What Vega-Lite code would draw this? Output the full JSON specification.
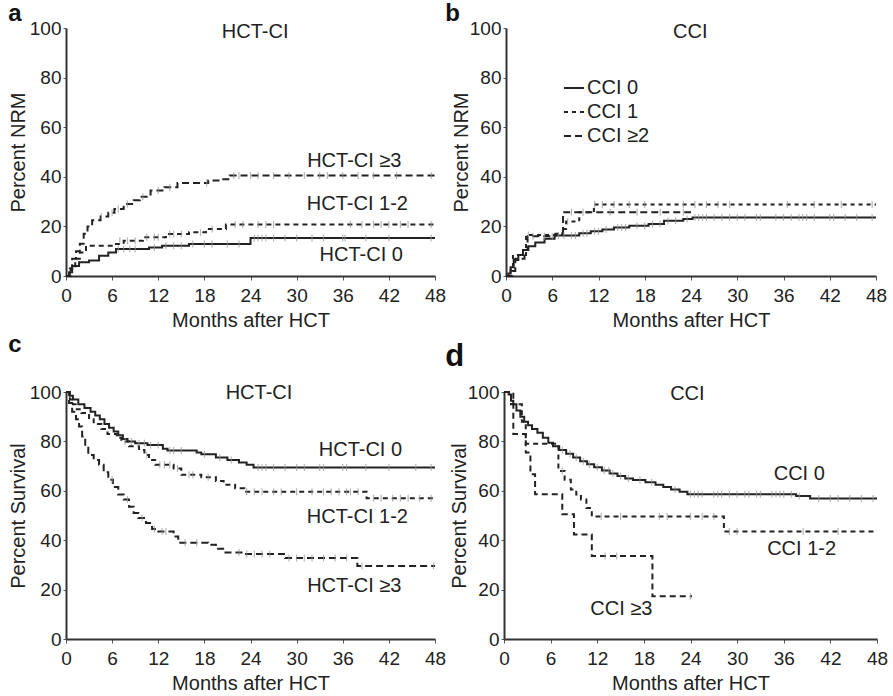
{
  "$schema": "https://vega.github.io/schema/vega-lite/v6.json",
  "background": "white",
  "padding": {"left": 8, "top": 2, "right": 2, "bottom": 0},
  "config": {
    "font": "Liberation Sans",
    "view": {"stroke": null},
    "axis": {"domainColor": "#333", "domainWidth": 2, "tickColor": "#555", "tickSize": 4, "tickWidth": 1, "labelFontSize": 19, "labelColor": "#222", "labelPadding": 2, "labelFlush": false, "titleFontSize": 20, "titleFontWeight": "normal", "titleColor": "#222", "grid": false, "titlePadding": 1},
    "axisX": {"labelPadding": 6, "titlePadding": 5},
    "axisY": {"tickSize": 3, "labelPadding": 2, "titlePadding": 1},
    "title": {"fontSize": 24, "fontWeight": "bold", "anchor": "start", "frame": "bounds", "color": "#111"},
    "text": {"fontSize": 20, "color": "#222"}
  },
  "datasets": {
    "curves": [
      {"k":"a","g":"HCT-CI 0","t":0,"p":0},{"k":"a","g":"HCT-CI 0","t":0.4,"p":1.5},{"k":"a","g":"HCT-CI 0","t":0.8,"p":4},{"k":"a","g":"HCT-CI 0","t":1.7,"p":5.5},{"k":"a","g":"HCT-CI 0","t":3,"p":6.2},{"k":"a","g":"HCT-CI 0","t":4.3,"p":8.2},{"k":"a","g":"HCT-CI 0","t":5.5,"p":9.5},{"k":"a","g":"HCT-CI 0","t":6.5,"p":10.9},{"k":"a","g":"HCT-CI 0","t":10.8,"p":11.5},{"k":"a","g":"HCT-CI 0","t":12.5,"p":12.2},{"k":"a","g":"HCT-CI 0","t":16,"p":12.9},{"k":"a","g":"HCT-CI 0","t":24,"p":15.3},{"k":"a","g":"HCT-CI 0","t":48,"p":15.3},
      {"k":"a","g":"HCT-CI 1-2","t":0,"p":0},{"k":"a","g":"HCT-CI 1-2","t":0.6,"p":3},{"k":"a","g":"HCT-CI 1-2","t":1.2,"p":7},{"k":"a","g":"HCT-CI 1-2","t":1.8,"p":9.5},{"k":"a","g":"HCT-CI 1-2","t":2.6,"p":12.2},{"k":"a","g":"HCT-CI 1-2","t":6.5,"p":12.9},{"k":"a","g":"HCT-CI 1-2","t":7.5,"p":14.2},{"k":"a","g":"HCT-CI 1-2","t":10,"p":15.6},{"k":"a","g":"HCT-CI 1-2","t":13,"p":16.9},{"k":"a","g":"HCT-CI 1-2","t":16,"p":17.6},{"k":"a","g":"HCT-CI 1-2","t":18.2,"p":19},{"k":"a","g":"HCT-CI 1-2","t":20.8,"p":20.8},{"k":"a","g":"HCT-CI 1-2","t":48,"p":20.8},
      {"k":"a","g":"HCT-CI ≥3","t":0,"p":0},{"k":"a","g":"HCT-CI ≥3","t":0.5,"p":3},{"k":"a","g":"HCT-CI ≥3","t":0.8,"p":7},{"k":"a","g":"HCT-CI ≥3","t":1.3,"p":10},{"k":"a","g":"HCT-CI ≥3","t":1.8,"p":13},{"k":"a","g":"HCT-CI ≥3","t":2.3,"p":17},{"k":"a","g":"HCT-CI ≥3","t":2.8,"p":20},{"k":"a","g":"HCT-CI ≥3","t":3.4,"p":22.5},{"k":"a","g":"HCT-CI ≥3","t":4.5,"p":24},{"k":"a","g":"HCT-CI ≥3","t":5.5,"p":25.5},{"k":"a","g":"HCT-CI ≥3","t":6.3,"p":27},{"k":"a","g":"HCT-CI ≥3","t":7.5,"p":29},{"k":"a","g":"HCT-CI ≥3","t":8.8,"p":30.5},{"k":"a","g":"HCT-CI ≥3","t":9.6,"p":32},{"k":"a","g":"HCT-CI ≥3","t":11,"p":34.5},{"k":"a","g":"HCT-CI ≥3","t":12.8,"p":35.8},{"k":"a","g":"HCT-CI ≥3","t":14.5,"p":37.5},{"k":"a","g":"HCT-CI ≥3","t":18.5,"p":38.5},{"k":"a","g":"HCT-CI ≥3","t":20,"p":39},{"k":"a","g":"HCT-CI ≥3","t":21.3,"p":40.5},{"k":"a","g":"HCT-CI ≥3","t":48,"p":40.5},

      {"k":"b","g":"CCI 0","t":0,"p":0},{"k":"b","g":"CCI 0","t":0.3,"p":1},{"k":"b","g":"CCI 0","t":0.6,"p":3.5},{"k":"b","g":"CCI 0","t":1,"p":6.5},{"k":"b","g":"CCI 0","t":1.6,"p":8.5},{"k":"b","g":"CCI 0","t":2.2,"p":10.5},{"k":"b","g":"CCI 0","t":2.9,"p":12},{"k":"b","g":"CCI 0","t":3.8,"p":13.5},{"k":"b","g":"CCI 0","t":5,"p":15},{"k":"b","g":"CCI 0","t":6.3,"p":16.3},{"k":"b","g":"CCI 0","t":9.5,"p":17.2},{"k":"b","g":"CCI 0","t":11,"p":18},{"k":"b","g":"CCI 0","t":12.5,"p":18.8},{"k":"b","g":"CCI 0","t":14,"p":19.6},{"k":"b","g":"CCI 0","t":16,"p":20.3},{"k":"b","g":"CCI 0","t":18.5,"p":21},{"k":"b","g":"CCI 0","t":20.5,"p":22.3},{"k":"b","g":"CCI 0","t":23,"p":23},{"k":"b","g":"CCI 0","t":24.2,"p":23.6},{"k":"b","g":"CCI 0","t":48,"p":23.6},
      {"k":"b","g":"CCI 1","t":0,"p":0},{"k":"b","g":"CCI 1","t":0.6,"p":3},{"k":"b","g":"CCI 1","t":0.9,"p":8.5},{"k":"b","g":"CCI 1","t":2.6,"p":16.5},{"k":"b","g":"CCI 1","t":7.3,"p":19},{"k":"b","g":"CCI 1","t":7.8,"p":22},{"k":"b","g":"CCI 1","t":9.5,"p":25.7},{"k":"b","g":"CCI 1","t":11.4,"p":28.8},{"k":"b","g":"CCI 1","t":48,"p":28.8},
      {"k":"b","g":"CCI ≥2","t":0,"p":0},{"k":"b","g":"CCI ≥2","t":0.8,"p":2},{"k":"b","g":"CCI ≥2","t":1.2,"p":7},{"k":"b","g":"CCI ≥2","t":2.4,"p":10.5},{"k":"b","g":"CCI ≥2","t":2.8,"p":16},{"k":"b","g":"CCI ≥2","t":6.4,"p":17},{"k":"b","g":"CCI ≥2","t":7.4,"p":25.7},{"k":"b","g":"CCI ≥2","t":24,"p":25.7},

      {"k":"c","g":"HCT-CI 0","t":0,"p":100},{"k":"c","g":"HCT-CI 0","t":0.5,"p":98.5},{"k":"c","g":"HCT-CI 0","t":0.9,"p":97},{"k":"c","g":"HCT-CI 0","t":1.6,"p":95},{"k":"c","g":"HCT-CI 0","t":2.4,"p":93.5},{"k":"c","g":"HCT-CI 0","t":3.2,"p":92},{"k":"c","g":"HCT-CI 0","t":3.8,"p":90.5},{"k":"c","g":"HCT-CI 0","t":4.4,"p":89},{"k":"c","g":"HCT-CI 0","t":5,"p":87},{"k":"c","g":"HCT-CI 0","t":5.6,"p":85.5},{"k":"c","g":"HCT-CI 0","t":6.2,"p":84},{"k":"c","g":"HCT-CI 0","t":6.8,"p":82.5},{"k":"c","g":"HCT-CI 0","t":7.4,"p":81},{"k":"c","g":"HCT-CI 0","t":8,"p":80},{"k":"c","g":"HCT-CI 0","t":9,"p":79.3},{"k":"c","g":"HCT-CI 0","t":10.6,"p":78.5},{"k":"c","g":"HCT-CI 0","t":12.6,"p":77},{"k":"c","g":"HCT-CI 0","t":13.2,"p":76.3},{"k":"c","g":"HCT-CI 0","t":17,"p":75.5},{"k":"c","g":"HCT-CI 0","t":17.6,"p":74.8},{"k":"c","g":"HCT-CI 0","t":19.5,"p":73.5},{"k":"c","g":"HCT-CI 0","t":21,"p":72.5},{"k":"c","g":"HCT-CI 0","t":22.5,"p":71.5},{"k":"c","g":"HCT-CI 0","t":23.5,"p":70.5},{"k":"c","g":"HCT-CI 0","t":24.4,"p":69.4},{"k":"c","g":"HCT-CI 0","t":48,"p":69.4},
      {"k":"c","g":"HCT-CI 1-2","t":0,"p":100},{"k":"c","g":"HCT-CI 1-2","t":0.5,"p":97},{"k":"c","g":"HCT-CI 1-2","t":0.9,"p":95},{"k":"c","g":"HCT-CI 1-2","t":1.4,"p":93},{"k":"c","g":"HCT-CI 1-2","t":2,"p":91.5},{"k":"c","g":"HCT-CI 1-2","t":3,"p":89},{"k":"c","g":"HCT-CI 1-2","t":3.6,"p":87},{"k":"c","g":"HCT-CI 1-2","t":4.6,"p":85},{"k":"c","g":"HCT-CI 1-2","t":5.4,"p":83},{"k":"c","g":"HCT-CI 1-2","t":6.6,"p":81.5},{"k":"c","g":"HCT-CI 1-2","t":7.2,"p":80},{"k":"c","g":"HCT-CI 1-2","t":8.2,"p":78},{"k":"c","g":"HCT-CI 1-2","t":9.5,"p":76.5},{"k":"c","g":"HCT-CI 1-2","t":10.2,"p":74.5},{"k":"c","g":"HCT-CI 1-2","t":10.8,"p":72.5},{"k":"c","g":"HCT-CI 1-2","t":11.6,"p":70.5},{"k":"c","g":"HCT-CI 1-2","t":14,"p":69},{"k":"c","g":"HCT-CI 1-2","t":15,"p":66.5},{"k":"c","g":"HCT-CI 1-2","t":17.6,"p":65.5},{"k":"c","g":"HCT-CI 1-2","t":19.5,"p":64},{"k":"c","g":"HCT-CI 1-2","t":20.5,"p":62.5},{"k":"c","g":"HCT-CI 1-2","t":22,"p":61},{"k":"c","g":"HCT-CI 1-2","t":23.2,"p":59.6},{"k":"c","g":"HCT-CI 1-2","t":39.1,"p":57},{"k":"c","g":"HCT-CI 1-2","t":48,"p":57},
      {"k":"c","g":"HCT-CI ≥3","t":0,"p":100},{"k":"c","g":"HCT-CI ≥3","t":0.4,"p":95.5},{"k":"c","g":"HCT-CI ≥3","t":0.8,"p":92},{"k":"c","g":"HCT-CI ≥3","t":1.3,"p":89},{"k":"c","g":"HCT-CI ≥3","t":1.7,"p":86},{"k":"c","g":"HCT-CI ≥3","t":2.1,"p":82},{"k":"c","g":"HCT-CI ≥3","t":2.5,"p":78},{"k":"c","g":"HCT-CI ≥3","t":2.9,"p":74.5},{"k":"c","g":"HCT-CI ≥3","t":3.6,"p":72.5},{"k":"c","g":"HCT-CI ≥3","t":4.3,"p":70.5},{"k":"c","g":"HCT-CI ≥3","t":4.9,"p":67.5},{"k":"c","g":"HCT-CI ≥3","t":5.5,"p":64.5},{"k":"c","g":"HCT-CI ≥3","t":6.1,"p":61.5},{"k":"c","g":"HCT-CI ≥3","t":6.8,"p":58.5},{"k":"c","g":"HCT-CI ≥3","t":7.5,"p":56.5},{"k":"c","g":"HCT-CI ≥3","t":8.2,"p":53.5},{"k":"c","g":"HCT-CI ≥3","t":8.8,"p":51},{"k":"c","g":"HCT-CI ≥3","t":9.4,"p":49},{"k":"c","g":"HCT-CI ≥3","t":10.4,"p":47},{"k":"c","g":"HCT-CI ≥3","t":11.2,"p":44.5},{"k":"c","g":"HCT-CI ≥3","t":12,"p":43.5},{"k":"c","g":"HCT-CI ≥3","t":14,"p":41.5},{"k":"c","g":"HCT-CI ≥3","t":14.6,"p":39},{"k":"c","g":"HCT-CI ≥3","t":18.5,"p":38.2},{"k":"c","g":"HCT-CI ≥3","t":19.5,"p":36.5},{"k":"c","g":"HCT-CI ≥3","t":20.6,"p":35},{"k":"c","g":"HCT-CI ≥3","t":23,"p":34.4},{"k":"c","g":"HCT-CI ≥3","t":28.5,"p":32.8},{"k":"c","g":"HCT-CI ≥3","t":37.9,"p":29.6},{"k":"c","g":"HCT-CI ≥3","t":48,"p":29.6},

      {"k":"d","g":"CCI 0","t":0,"p":100},{"k":"d","g":"CCI 0","t":0.6,"p":99},{"k":"d","g":"CCI 0","t":0.9,"p":96.5},{"k":"d","g":"CCI 0","t":1.2,"p":95},{"k":"d","g":"CCI 0","t":1.6,"p":92.5},{"k":"d","g":"CCI 0","t":2.1,"p":90},{"k":"d","g":"CCI 0","t":2.6,"p":88},{"k":"d","g":"CCI 0","t":3.1,"p":86.5},{"k":"d","g":"CCI 0","t":3.6,"p":85},{"k":"d","g":"CCI 0","t":4.3,"p":83.5},{"k":"d","g":"CCI 0","t":5,"p":81.5},{"k":"d","g":"CCI 0","t":5.7,"p":79.5},{"k":"d","g":"CCI 0","t":6.3,"p":78},{"k":"d","g":"CCI 0","t":7.1,"p":76.5},{"k":"d","g":"CCI 0","t":8,"p":75},{"k":"d","g":"CCI 0","t":8.9,"p":73.5},{"k":"d","g":"CCI 0","t":9.8,"p":72},{"k":"d","g":"CCI 0","t":10.7,"p":70.7},{"k":"d","g":"CCI 0","t":11.6,"p":69.5},{"k":"d","g":"CCI 0","t":12.6,"p":68.2},{"k":"d","g":"CCI 0","t":13.6,"p":67},{"k":"d","g":"CCI 0","t":14.6,"p":66},{"k":"d","g":"CCI 0","t":15.6,"p":65},{"k":"d","g":"CCI 0","t":16.6,"p":64.4},{"k":"d","g":"CCI 0","t":18.2,"p":63.5},{"k":"d","g":"CCI 0","t":19.5,"p":62.5},{"k":"d","g":"CCI 0","t":20.5,"p":61.5},{"k":"d","g":"CCI 0","t":21.5,"p":60.5},{"k":"d","g":"CCI 0","t":22.6,"p":59.6},{"k":"d","g":"CCI 0","t":23.6,"p":58.6},{"k":"d","g":"CCI 0","t":37.6,"p":57.9},{"k":"d","g":"CCI 0","t":39.4,"p":56.9},{"k":"d","g":"CCI 0","t":48,"p":56.9},
      {"k":"d","g":"CCI 1-2","t":0,"p":100},{"k":"d","g":"CCI 1-2","t":0.9,"p":95},{"k":"d","g":"CCI 1-2","t":2.3,"p":88},{"k":"d","g":"CCI 1-2","t":2.8,"p":79},{"k":"d","g":"CCI 1-2","t":7,"p":68},{"k":"d","g":"CCI 1-2","t":7.8,"p":64.5},{"k":"d","g":"CCI 1-2","t":8.6,"p":60.5},{"k":"d","g":"CCI 1-2","t":9.3,"p":58.5},{"k":"d","g":"CCI 1-2","t":9.9,"p":56.5},{"k":"d","g":"CCI 1-2","t":10.6,"p":53},{"k":"d","g":"CCI 1-2","t":11.3,"p":49.6},{"k":"d","g":"CCI 1-2","t":28.3,"p":43.5},{"k":"d","g":"CCI 1-2","t":48,"p":43.5},
      {"k":"d","g":"CCI ≥3","t":0,"p":100},{"k":"d","g":"CCI ≥3","t":1.2,"p":83},{"k":"d","g":"CCI ≥3","t":2.8,"p":75.5},{"k":"d","g":"CCI ≥3","t":3.4,"p":66.7},{"k":"d","g":"CCI ≥3","t":4,"p":58.6},{"k":"d","g":"CCI ≥3","t":7.5,"p":50.5},{"k":"d","g":"CCI ≥3","t":9,"p":42.3},{"k":"d","g":"CCI ≥3","t":11.3,"p":33.6},{"k":"d","g":"CCI ≥3","t":19.1,"p":17.3},{"k":"d","g":"CCI ≥3","t":24.2,"p":17.3}
    ],
    "censor": [
      {"k":"a","t":6.8,"p":10.9},{"k":"a","t":7.5,"p":10.9},{"k":"a","t":8.3,"p":10.9},{"k":"a","t":9,"p":10.9},{"k":"a","t":11.5,"p":11.5},{"k":"a","t":13,"p":12.2},{"k":"a","t":14,"p":12.2},{"k":"a","t":15,"p":12.2},{"k":"a","t":16.5,"p":12.9},{"k":"a","t":18,"p":12.9},{"k":"a","t":19,"p":12.9},{"k":"a","t":21,"p":12.9},{"k":"a","t":22.5,"p":12.9},{"k":"a","t":24.5,"p":15.3},{"k":"a","t":25,"p":15.3},{"k":"a","t":25.5,"p":15.3},{"k":"a","t":26,"p":15.3},{"k":"a","t":27,"p":15.3},{"k":"a","t":28.5,"p":15.3},{"k":"a","t":30,"p":15.3},{"k":"a","t":32,"p":15.3},{"k":"a","t":33.5,"p":15.3},{"k":"a","t":36,"p":15.3},{"k":"a","t":36.3,"p":15.3},{"k":"a","t":39,"p":15.3},{"k":"a","t":42,"p":15.3},{"k":"a","t":47.5,"p":15.3},
      {"k":"a","t":7,"p":14.2},{"k":"a","t":8,"p":14.2},{"k":"a","t":9,"p":14.2},{"k":"a","t":10.5,"p":15.6},{"k":"a","t":11.5,"p":15.6},{"k":"a","t":12,"p":15.6},{"k":"a","t":13.5,"p":16.9},{"k":"a","t":14,"p":16.9},{"k":"a","t":15,"p":16.9},{"k":"a","t":17.5,"p":17.6},{"k":"a","t":19,"p":19},{"k":"a","t":22,"p":20.8},{"k":"a","t":23,"p":20.8},{"k":"a","t":25,"p":20.8},{"k":"a","t":26,"p":20.8},{"k":"a","t":27,"p":20.8},{"k":"a","t":37,"p":20.8},{"k":"a","t":38.5,"p":20.8},{"k":"a","t":40,"p":20.8},{"k":"a","t":41,"p":20.8},{"k":"a","t":42,"p":20.8},{"k":"a","t":43.5,"p":20.8},{"k":"a","t":44.5,"p":20.8},{"k":"a","t":47.5,"p":20.8},
      {"k":"a","t":4.6,"p":24},{"k":"a","t":6,"p":25.5},{"k":"a","t":6.8,"p":27},{"k":"a","t":8,"p":29},{"k":"a","t":10,"p":32},{"k":"a","t":12,"p":34.5},{"k":"a","t":13.5,"p":35.8},{"k":"a","t":18.3,"p":37.5},{"k":"a","t":21.8,"p":40.5},{"k":"a","t":22.5,"p":40.5},{"k":"a","t":24,"p":40.5},{"k":"a","t":25,"p":40.5},{"k":"a","t":27,"p":40.5},{"k":"a","t":29,"p":40.5},{"k":"a","t":31,"p":40.5},{"k":"a","t":33,"p":40.5},{"k":"a","t":34,"p":40.5},{"k":"a","t":36,"p":40.5},{"k":"a","t":38,"p":40.5},{"k":"a","t":40,"p":40.5},{"k":"a","t":43,"p":40.5},{"k":"a","t":47.5,"p":40.5},
      {"k":"b","t":6.8,"p":16.3},{"k":"b","t":7.5,"p":16.3},{"k":"b","t":8.5,"p":16.3},{"k":"b","t":9,"p":16.3},{"k":"b","t":10,"p":17.2},{"k":"b","t":10.5,"p":17.2},{"k":"b","t":11.5,"p":18},{"k":"b","t":12,"p":18},{"k":"b","t":13,"p":18.8},{"k":"b","t":14.5,"p":19.6},{"k":"b","t":15,"p":19.6},{"k":"b","t":15.5,"p":19.6},{"k":"b","t":17,"p":20.3},{"k":"b","t":18,"p":20.3},{"k":"b","t":19,"p":21},{"k":"b","t":20,"p":21},{"k":"b","t":21,"p":22.3},{"k":"b","t":22,"p":22.3},{"k":"b","t":23.5,"p":23},{"k":"b","t":24.5,"p":23.6},{"k":"b","t":25,"p":23.6},{"k":"b","t":25.5,"p":23.6},{"k":"b","t":26,"p":23.6},{"k":"b","t":27,"p":23.6},{"k":"b","t":28,"p":23.6},{"k":"b","t":29,"p":23.6},{"k":"b","t":30,"p":23.6},{"k":"b","t":31,"p":23.6},{"k":"b","t":32.5,"p":23.6},{"k":"b","t":33,"p":23.6},{"k":"b","t":35,"p":23.6},{"k":"b","t":36,"p":23.6},{"k":"b","t":37,"p":23.6},{"k":"b","t":38,"p":23.6},{"k":"b","t":38.5,"p":23.6},{"k":"b","t":39,"p":23.6},{"k":"b","t":40,"p":23.6},{"k":"b","t":42,"p":23.6},{"k":"b","t":42.5,"p":23.6},{"k":"b","t":44,"p":23.6},{"k":"b","t":45.5,"p":23.6},{"k":"b","t":47.5,"p":23.6},
      {"k":"b","t":11.5,"p":28.8},{"k":"b","t":12.5,"p":28.8},{"k":"b","t":14,"p":28.8},{"k":"b","t":16,"p":28.8},{"k":"b","t":18,"p":28.8},{"k":"b","t":23,"p":28.8},{"k":"b","t":24.5,"p":28.8},{"k":"b","t":26,"p":28.8},{"k":"b","t":27.5,"p":28.8},{"k":"b","t":29,"p":28.8},{"k":"b","t":36.5,"p":28.8},{"k":"b","t":40,"p":28.8},{"k":"b","t":43.5,"p":28.8},{"k":"b","t":47.5,"p":28.8},{"k":"b","t":2.9,"p":16.5},{"k":"b","t":8,"p":22},
      {"k":"b","t":3.5,"p":16},{"k":"b","t":5,"p":16},{"k":"b","t":6,"p":16},{"k":"b","t":8.5,"p":25.7},{"k":"b","t":10,"p":25.7},{"k":"b","t":13.5,"p":25.7},{"k":"b","t":17,"p":25.7},{"k":"b","t":20,"p":25.7},{"k":"b","t":23,"p":25.7},
      {"k":"c","t":8.5,"p":80},{"k":"c","t":9.5,"p":79.3},{"k":"c","t":10.2,"p":79.3},{"k":"c","t":11,"p":78.5},{"k":"c","t":12,"p":78.5},{"k":"c","t":13.5,"p":76.3},{"k":"c","t":14,"p":76.3},{"k":"c","t":15,"p":76.3},{"k":"c","t":18,"p":74.8},{"k":"c","t":20,"p":73.5},{"k":"c","t":21.5,"p":72.5},{"k":"c","t":25,"p":69.4},{"k":"c","t":25.5,"p":69.4},{"k":"c","t":26,"p":69.4},{"k":"c","t":27,"p":69.4},{"k":"c","t":28.5,"p":69.4},{"k":"c","t":30,"p":69.4},{"k":"c","t":31,"p":69.4},{"k":"c","t":33,"p":69.4},{"k":"c","t":33.5,"p":69.4},{"k":"c","t":36,"p":69.4},{"k":"c","t":36.5,"p":69.4},{"k":"c","t":39,"p":69.4},{"k":"c","t":42,"p":69.4},{"k":"c","t":45.5,"p":69.4},{"k":"c","t":47.5,"p":69.4},
      {"k":"c","t":7.7,"p":80},{"k":"c","t":10.5,"p":74.5},{"k":"c","t":12.2,"p":70.5},{"k":"c","t":12.8,"p":70.5},{"k":"c","t":13.5,"p":70.5},{"k":"c","t":14.5,"p":69},{"k":"c","t":16,"p":66.5},{"k":"c","t":16.5,"p":66.5},{"k":"c","t":18.5,"p":65.5},{"k":"c","t":23.5,"p":59.6},{"k":"c","t":24.5,"p":59.6},{"k":"c","t":25.5,"p":59.6},{"k":"c","t":27,"p":59.6},{"k":"c","t":28,"p":59.6},{"k":"c","t":30,"p":59.6},{"k":"c","t":32,"p":59.6},{"k":"c","t":33.5,"p":59.6},{"k":"c","t":34.5,"p":59.6},{"k":"c","t":35.5,"p":59.6},{"k":"c","t":36.5,"p":59.6},{"k":"c","t":37,"p":59.6},{"k":"c","t":38,"p":59.6},{"k":"c","t":40,"p":57},{"k":"c","t":41,"p":57},{"k":"c","t":42.5,"p":57},{"k":"c","t":43.5,"p":57},{"k":"c","t":44.5,"p":57},{"k":"c","t":46,"p":57},{"k":"c","t":47.5,"p":57},
      {"k":"c","t":6,"p":64.5},{"k":"c","t":8,"p":56.5},{"k":"c","t":9.9,"p":49},{"k":"c","t":11.5,"p":44.5},{"k":"c","t":12.5,"p":43.5},{"k":"c","t":13,"p":43.5},{"k":"c","t":15.5,"p":39},{"k":"c","t":17,"p":39},{"k":"c","t":22.5,"p":35},{"k":"c","t":23.5,"p":34.4},{"k":"c","t":24.5,"p":34.4},{"k":"c","t":25.5,"p":34.4},{"k":"c","t":26.5,"p":34.4},{"k":"c","t":29,"p":32.8},{"k":"c","t":30,"p":32.8},{"k":"c","t":31,"p":32.8},{"k":"c","t":32,"p":32.8},{"k":"c","t":33.5,"p":32.8},{"k":"c","t":35,"p":32.8},{"k":"c","t":36.5,"p":32.8},{"k":"c","t":38.5,"p":29.6},{"k":"c","t":47.8,"p":29.6},
      {"k":"d","t":7.5,"p":76.5},{"k":"d","t":8.5,"p":75},{"k":"d","t":9.3,"p":73.5},{"k":"d","t":10.2,"p":72},{"k":"d","t":11,"p":70.7},{"k":"d","t":12,"p":69.5},{"k":"d","t":12.9,"p":68.2},{"k":"d","t":13.5,"p":68.2},{"k":"d","t":14,"p":67},{"k":"d","t":15,"p":66},{"k":"d","t":16,"p":65},{"k":"d","t":17.5,"p":64.4},{"k":"d","t":19,"p":63.5},{"k":"d","t":22,"p":60.5},{"k":"d","t":24,"p":58.6},{"k":"d","t":24.5,"p":58.6},{"k":"d","t":25,"p":58.6},{"k":"d","t":25.5,"p":58.6},{"k":"d","t":27,"p":58.6},{"k":"d","t":27.5,"p":58.6},{"k":"d","t":28,"p":58.6},{"k":"d","t":29,"p":58.6},{"k":"d","t":30,"p":58.6},{"k":"d","t":31,"p":58.6},{"k":"d","t":31.5,"p":58.6},{"k":"d","t":32.5,"p":58.6},{"k":"d","t":33,"p":58.6},{"k":"d","t":34.5,"p":58.6},{"k":"d","t":35,"p":58.6},{"k":"d","t":35.5,"p":58.6},{"k":"d","t":36,"p":58.6},{"k":"d","t":37,"p":58.6},{"k":"d","t":38,"p":57.9},{"k":"d","t":40.5,"p":56.9},{"k":"d","t":42,"p":56.9},{"k":"d","t":43,"p":56.9},{"k":"d","t":44.5,"p":56.9},{"k":"d","t":46,"p":56.9},{"k":"d","t":47.5,"p":56.9},
      {"k":"d","t":7.5,"p":68},{"k":"d","t":12.5,"p":49.6},{"k":"d","t":15,"p":49.6},{"k":"d","t":20,"p":49.6},{"k":"d","t":21,"p":49.6},{"k":"d","t":24,"p":49.6},{"k":"d","t":25.5,"p":49.6},{"k":"d","t":27,"p":49.6},{"k":"d","t":29,"p":43.5},{"k":"d","t":30,"p":43.5},{"k":"d","t":38.5,"p":43.5},{"k":"d","t":43,"p":43.5},
      {"k":"d","t":13,"p":33.6},{"k":"d","t":14.5,"p":33.6},{"k":"d","t":24,"p":17.3}
    ]
  },
  "resolve": {"scale": {"strokeDash": "independent"}, "legend": {"strokeDash": "independent"}},
  "spacing": 3,
  "vconcat": [
    {
      "spacing": -1,
      "resolve": {"scale": {"strokeDash": "independent"}, "legend": {"strokeDash": "independent"}},
      "hconcat": [
        {
          "width": 369, "height": 248,
          "title": {"text": "a", "offset": -7},
          "layer": [
            {
              "data": {"name": "curves"},
              "transform": [{"filter": "datum.k === 'a'"}],
              "mark": {"type": "line", "interpolate": "step-after", "strokeWidth": 2, "color": "#222"},
              "encoding": {
                "x": {"field": "t", "type": "quantitative", "scale": {"domain": [0, 48], "nice": false}, "axis": {"values": [0, 6, 12, 18, 24, 30, 36, 42, 48], "title": "Months after HCT"}},
                "y": {"field": "p", "type": "quantitative", "scale": {"domain": [0, 100], "nice": false}, "axis": {"values": [0, 20, 40, 60, 80, 100], "title": "Percent NRM"}},
                "strokeDash": {"field": "g", "type": "nominal", "scale": {"domain": ["HCT-CI 0", "HCT-CI 1-2", "HCT-CI ≥3"], "range": [[1, 0], [5, 4], [7, 4]]}, "legend": null}
              }
            },
            {
              "data": {"name": "censor"},
              "transform": [{"filter": "datum.k === 'a'"}],
              "mark": {"type": "tick", "orient": "vertical", "size": 7, "thickness": 1.2, "color": "#999"},
              "encoding": {"x": {"field": "t", "type": "quantitative"}, "y": {"field": "p", "type": "quantitative"}}
            },
            {"data": {"values": [{}]}, "mark": {"type": "text"}, "encoding": {"x": {"datum": 24.6}, "y": {"datum": 98.4}, "text": {"value": "HCT-CI"}}},
            {"data": {"values": [{}]}, "mark": {"type": "text"}, "encoding": {"x": {"datum": 37.5}, "y": {"datum": 46.4}, "text": {"value": "HCT-CI ≥3"}}},
            {"data": {"values": [{}]}, "mark": {"type": "text"}, "encoding": {"x": {"datum": 37.9}, "y": {"datum": 29}, "text": {"value": "HCT-CI 1-2"}}},
            {"data": {"values": [{}]}, "mark": {"type": "text"}, "encoding": {"x": {"datum": 38.4}, "y": {"datum": 8.5}, "text": {"value": "HCT-CI 0"}}}
          ]
        },
        {
          "width": 370, "height": 248,
          "title": {"text": "b", "offset": -7, "dx": -6},
          "layer": [
            {
              "data": {"name": "curves"},
              "transform": [{"filter": "datum.k === 'b'"}],
              "mark": {"type": "line", "interpolate": "step-after", "strokeWidth": 2, "color": "#222"},
              "encoding": {
                "x": {"field": "t", "type": "quantitative", "scale": {"domain": [0, 48], "nice": false}, "axis": {"values": [0, 6, 12, 18, 24, 30, 36, 42, 48], "title": "Months after HCT"}},
                "y": {"field": "p", "type": "quantitative", "scale": {"domain": [0, 100], "nice": false}, "axis": {"values": [0, 20, 40, 60, 80, 100], "title": "Percent NRM", "titlePadding": -2}},
                "strokeDash": {"field": "g", "type": "nominal", "scale": {"domain": ["CCI 0", "CCI 1", "CCI ≥2"], "range": [[1, 0], [4, 4], [7, 4]]},
                  "legend": {"title": null, "orient": "none", "legendX": 57, "legendY": 49, "symbolType": "stroke", "symbolSize": 400, "symbolStrokeWidth": 2, "symbolStrokeColor": "#222", "labelFontSize": 20, "labelColor": "#222", "labelOffset": 2, "rowPadding": 3, "padding": 0}}
              }
            },
            {
              "data": {"name": "censor"},
              "transform": [{"filter": "datum.k === 'b'"}],
              "mark": {"type": "tick", "orient": "vertical", "size": 7, "thickness": 1.2, "color": "#999"},
              "encoding": {"x": {"field": "t", "type": "quantitative"}, "y": {"field": "p", "type": "quantitative"}}
            },
            {"data": {"values": [{}]}, "mark": {"type": "text"}, "encoding": {"x": {"datum": 23.9}, "y": {"datum": 98.5}, "text": {"value": "CCI"}}}
          ]
        }
      ]
    },
    {
      "spacing": -1,
      "resolve": {"scale": {"strokeDash": "independent"}, "legend": {"strokeDash": "independent"}},
      "hconcat": [
        {
          "width": 369, "height": 247,
          "title": {"text": "c", "offset": 26},
          "layer": [
            {
              "data": {"name": "curves"},
              "transform": [{"filter": "datum.k === 'c'"}],
              "mark": {"type": "line", "interpolate": "step-after", "strokeWidth": 2, "color": "#222"},
              "encoding": {
                "x": {"field": "t", "type": "quantitative", "scale": {"domain": [0, 48], "nice": false}, "axis": {"values": [0, 6, 12, 18, 24, 30, 36, 42, 48], "title": "Months after HCT"}},
                "y": {"field": "p", "type": "quantitative", "scale": {"domain": [0, 100], "nice": false}, "axis": {"values": [0, 20, 40, 60, 80, 100], "title": "Percent Survival"}},
                "strokeDash": {"field": "g", "type": "nominal", "scale": {"domain": ["HCT-CI 0", "HCT-CI 1-2", "HCT-CI ≥3"], "range": [[1, 0], [5, 4], [7, 4]]}, "legend": null}
              }
            },
            {
              "data": {"name": "censor"},
              "transform": [{"filter": "datum.k === 'c'"}],
              "mark": {"type": "tick", "orient": "vertical", "size": 7, "thickness": 1.2, "color": "#999"},
              "encoding": {"x": {"field": "t", "type": "quantitative"}, "y": {"field": "p", "type": "quantitative"}}
            },
            {"data": {"values": [{}]}, "mark": {"type": "text"}, "encoding": {"x": {"datum": 25.1}, "y": {"datum": 99.5}, "text": {"value": "HCT-CI"}}},
            {"data": {"values": [{}]}, "mark": {"type": "text"}, "encoding": {"x": {"datum": 38.3}, "y": {"datum": 76.5}, "text": {"value": "HCT-CI 0"}}},
            {"data": {"values": [{}]}, "mark": {"type": "text"}, "encoding": {"x": {"datum": 37.9}, "y": {"datum": 49.3}, "text": {"value": "HCT-CI 1-2"}}},
            {"data": {"values": [{}]}, "mark": {"type": "text"}, "encoding": {"x": {"datum": 37.5}, "y": {"datum": 21.6}, "text": {"value": "HCT-CI ≥3"}}}
          ]
        },
        {
          "width": 373, "height": 247,
          "title": {"text": "d", "offset": 10, "fontSize": 31, "dx": -4},
          "layer": [
            {
              "data": {"name": "curves"},
              "transform": [{"filter": "datum.k === 'd'"}],
              "mark": {"type": "line", "interpolate": "step-after", "strokeWidth": 2, "color": "#222"},
              "encoding": {
                "x": {"field": "t", "type": "quantitative", "scale": {"domain": [0, 48], "nice": false}, "axis": {"values": [0, 6, 12, 18, 24, 30, 36, 42, 48], "title": "Months after HCT"}},
                "y": {"field": "p", "type": "quantitative", "scale": {"domain": [0, 100], "nice": false}, "axis": {"values": [0, 20, 40, 60, 80, 100], "title": "Percent Survival", "titlePadding": -2}},
                "strokeDash": {"field": "g", "type": "nominal", "scale": {"domain": ["CCI 0", "CCI 1-2", "CCI ≥3"], "range": [[1, 0], [5, 4], [6, 4]]}, "legend": null}
              }
            },
            {
              "data": {"name": "censor"},
              "transform": [{"filter": "datum.k === 'd'"}],
              "mark": {"type": "tick", "orient": "vertical", "size": 7, "thickness": 1.2, "color": "#999"},
              "encoding": {"x": {"field": "t", "type": "quantitative"}, "y": {"field": "p", "type": "quantitative"}}
            },
            {"data": {"values": [{}]}, "mark": {"type": "text"}, "encoding": {"x": {"datum": 23.6}, "y": {"datum": 99}, "text": {"value": "CCI"}}},
            {"data": {"values": [{}]}, "mark": {"type": "text"}, "encoding": {"x": {"datum": 38}, "y": {"datum": 66.7}, "text": {"value": "CCI 0"}}},
            {"data": {"values": [{}]}, "mark": {"type": "text"}, "encoding": {"x": {"datum": 38.3}, "y": {"datum": 36.4}, "text": {"value": "CCI 1-2"}}},
            {"data": {"values": [{}]}, "mark": {"type": "text"}, "encoding": {"x": {"datum": 15.1}, "y": {"datum": 12.1}, "text": {"value": "CCI ≥3"}}}
          ]
        }
      ]
    }
  ]
}
